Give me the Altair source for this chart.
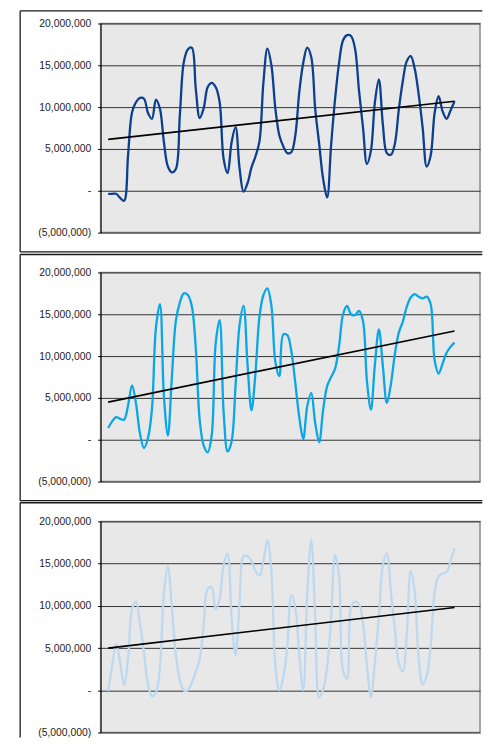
import altair as alt
import pandas as pd

# Values in millions at evenly spaced periods
series_1 = [-0.36, -0.36, -0.36, -0.85, -1.2, 4.3, 9.4, 10.6, 11.1, 11.0,
            9.3, 8.6, 10.9, 9.8, 5.8, 2.9, 2.2, 2.6, 9.0, 15.4,
            16.9, 17.1, 12.2, 8.7, 9.9, 12.4, 12.9, 12.4, 10.6, 3.8,
            2.1, 5.8, 7.6, 2.7, -0.1, 0.9, 2.8, 4.1, 5.9, 13.0,
            17.0, 15.0, 9.8, 6.6, 5.3, 4.5, 4.6, 6.6, 11.8, 15.3,
            17.1, 16.0, 9.8, 5.6, 1.4, -0.8, 5.5, 11.0, 15.3, 18.0,
            18.6, 18.5, 17.0, 12.0, 7.6, 3.2, 4.8, 10.6, 13.3, 7.9,
            4.5, 4.3, 5.6, 9.7, 13.1, 15.5, 16.1, 14.6, 11.5, 7.5,
            2.9, 4.2, 9.3, 11.3, 9.5, 8.6, 9.6, 10.7]

series_2 = [1.4, 2.2, 2.7, 2.5, 2.4, 4.1, 6.5, 4.3, 0.7, -1.0,
            0.2, 3.7, 13.4, 16.2, 5.2, 0.5, 7.5, 14.2, 16.4, 17.5,
            17.3, 16.0, 11.0, 2.3, -0.7, -1.5, 0.5, 11.5, 14.3, 3.3,
            -1.4, -0.2, 6.5, 13.7, 16.0, 9.0, 3.5, 8.0, 14.7, 17.3,
            18.1, 16.0, 9.3, 7.6, 12.6, 12.5, 10.6, 6.8, 2.7, 0.1,
            4.0, 5.6, 2.0, -0.3, 3.6, 6.4, 7.5, 8.5, 11.2, 15.0,
            16.0, 15.0, 14.9, 15.4, 14.2, 7.0, 3.6, 9.0, 13.2, 8.8,
            4.4, 6.6, 10.2, 12.8, 14.1, 15.9, 17.0, 17.4, 17.1, 16.9,
            17.1, 16.2, 9.5, 7.9, 9.1, 10.4, 11.1, 11.6]

series_3 = [-0.1, 2.9, 5.5, 3.3, 0.6, 3.8, 9.6, 10.5, 7.8, 4.4,
            0.7, -0.7, -0.3, 2.8, 11.5, 14.7, 9.7, 4.2, 1.2, 0.0,
            0.0, 0.9, 2.2, 3.7, 7.8, 12.0, 12.2, 9.6, 10.8, 14.8,
            16.2, 8.5, 4.2, 10.3, 15.9, 15.9, 15.3, 14.1, 13.6, 15.3,
            17.8, 14.0, 2.9, 0.0, 1.5, 5.2, 11.3, 9.8, 4.2, 0.0,
            11.5, 17.8, 8.8, -0.8, 0.1, 2.8, 8.6, 16.0, 13.5, 2.3,
            1.4, 9.8, 10.5, 10.2, 8.0, 2.9, -0.8, 3.4, 8.8, 14.8,
            16.2, 11.7, 7.3, 3.2, 2.2, 6.6, 14.1, 11.6, 3.7, 0.7,
            1.7, 5.2, 11.6, 13.5, 13.8, 14.0, 15.3, 16.8]

# Linear trend lines (start, end) in millions
trend_1 = [6.15, 10.7]
trend_2 = [4.5, 13.0]
trend_3 = [5.0, 9.8]

colors = ["#0d3f8f", "#0aa6e6", "#bcd9ef"]
y_ticks = [-5_000_000, 0, 5_000_000, 10_000_000, 15_000_000, 20_000_000]

NB = "\u00a0"
label_expr = (
    "datum.value == 0 ? '-" + NB * 5 + "' : "
    "datum.value < 0 ? '(' + format(-datum.value, ',') + ')' : "
    "format(datum.value, ',') + '" + NB + "'"
)

one = pd.DataFrame({"a": [0]})


def rule(x1, x2, y1, y2):
    return alt.Chart(one).mark_rule(color="#1a1a1a", strokeWidth=1.3).encode(
        x=alt.value(x1), x2=alt.value(x2), y=alt.value(y1), y2=alt.value(y2))


def panel(vals, trend_vals, color, height, top_off, bottom_off, bottom_edge=True):
    n = len(vals)
    df = pd.DataFrame({"i": list(range(n)),
                       "v": [x * 1_000_000 for x in vals]})
    tdf = pd.DataFrame({"i": [0, n - 1],
                        "v": [x * 1_000_000 for x in trend_vals]})
    x_enc = alt.X("i:Q", scale=alt.Scale(domain=[-1.9, 93.4], nice=False, zero=False),
                  axis=None)
    y_enc = alt.Y("v:Q", scale=alt.Scale(domain=[-5_000_000, 20_000_000], nice=False),
                  axis=alt.Axis(values=y_ticks, labelExpr=label_expr, title=None,
                                grid=True, gridColor="#333333", gridWidth=1,
                                tickSize=3, tickColor="#000000", domainColor="#000000",
                                labelPadding=7, labelFont="Liberation Sans",
                                labelFontSize=10.4, labelColor="#222222"))
    left, right = -80.8, 383.3
    top, bottom = -top_off, height + bottom_off
    layers = [rule(left, right, top, top),
              rule(left, left, top, bottom)]
    if bottom_edge:
        layers.append(rule(left, right, bottom, bottom))
    line = alt.Chart(df).mark_line(
        color=color, strokeWidth=2.3, interpolate="catmull-rom"
    ).encode(x=x_enc, y=y_enc)
    trend = alt.Chart(tdf).mark_line(
        color="#000000", strokeWidth=1.7
    ).encode(x=x_enc, y=y_enc)
    return alt.layer(*layers, line, trend).properties(width=381, height=height)


p1 = panel(series_1, trend_1, colors[0], 210, 12.6, 19.4)
p2 = panel(series_2, trend_2, colors[1], 210, 18, 19.2)
p3 = panel(series_3, trend_3, colors[2], 212, 18.7, 5, bottom_edge=False)

chart = alt.vconcat(p1, p2, p3, spacing=40, bounds="flush").properties(
    padding={"left": 10, "top": 0, "right": 0, "bottom": 0}
).configure_view(fill="#e8e8e8", stroke="#8a8a8a", strokeWidth=1.5)

chart.save("out.html", embed_options={"renderer": "svg", "actions": False})
